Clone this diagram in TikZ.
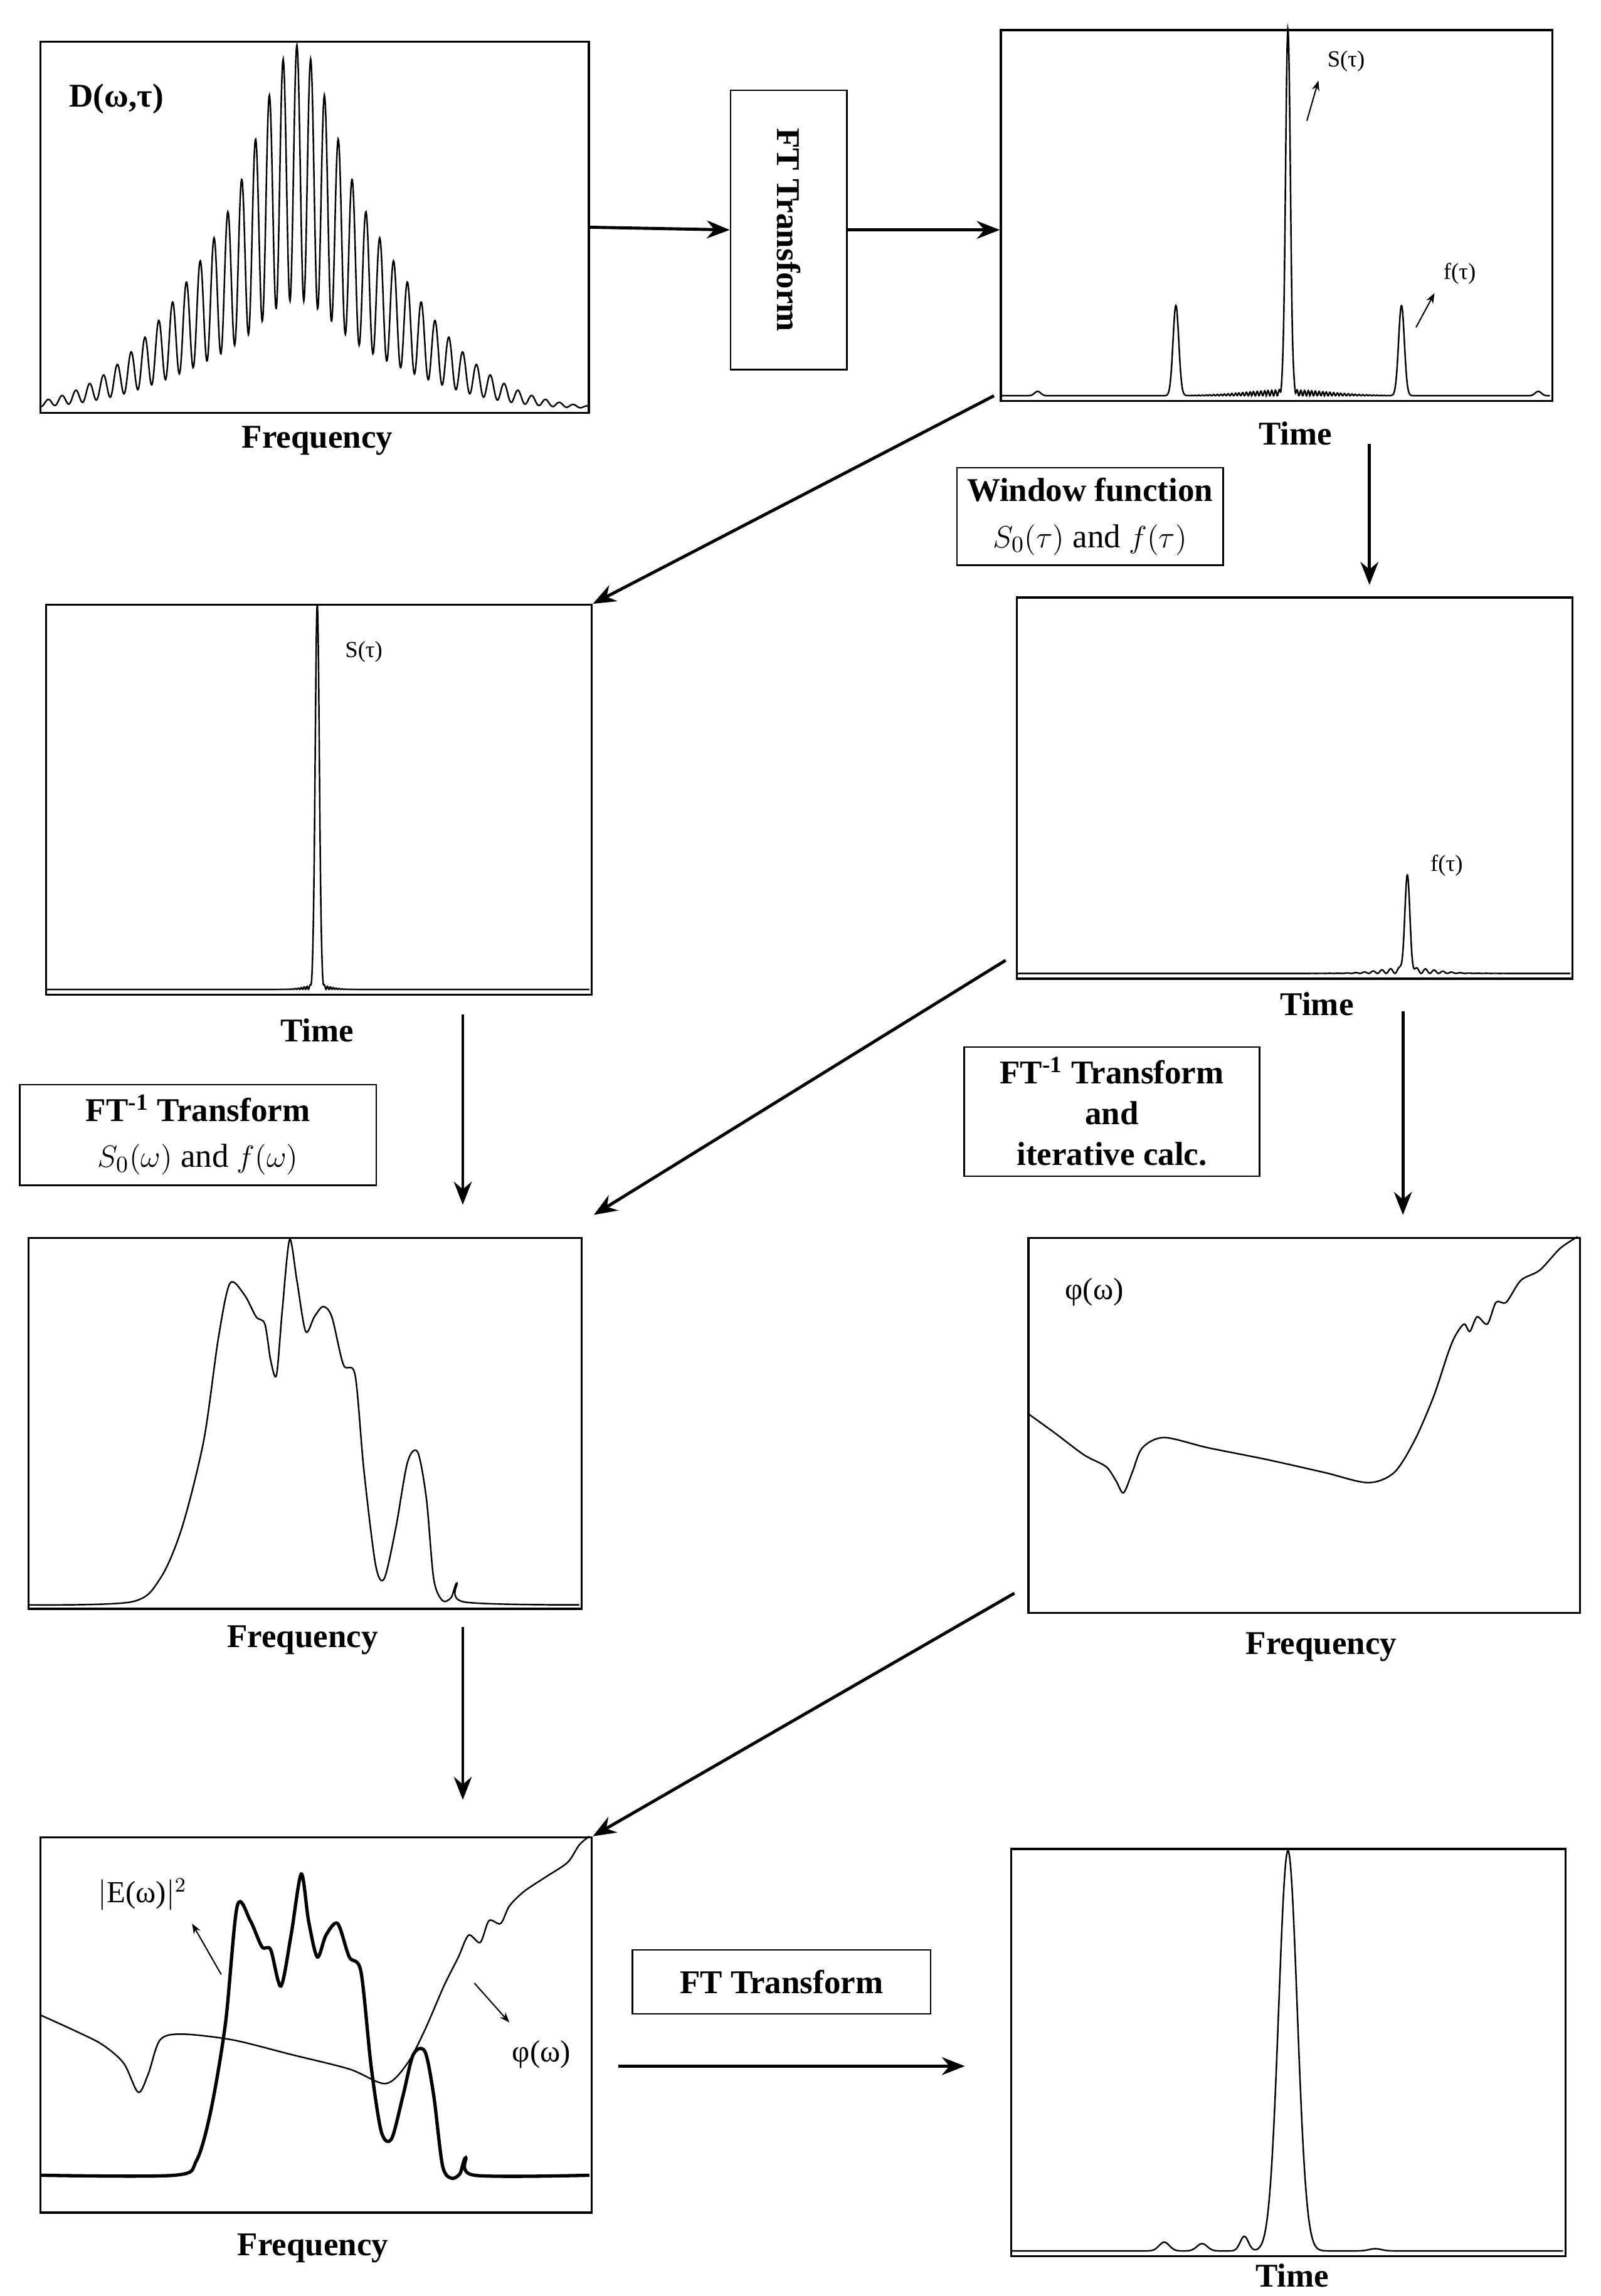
\documentclass[tikz,border=0pt]{standalone}
\usepackage{fontspec}
\setmainfont{Liberation Serif}
\usetikzlibrary{arrows.meta}
\begin{document}
\begin{tikzpicture}[x=0.02cm,y=-0.02cm,
  declare function={g(\u,\c,\w)=exp(-min(40,((\u-\c)/\w)^2));},
  panel/.style={draw,line width=0.8pt},
  lab/.style={font=\bfseries\fontsize{13}{15}\selectfont},
  small/.style={font=\fontsize{9}{11}\selectfont},
  box/.style={draw,line width=0.6pt,align=center,font=\bfseries\fontsize{13}{16}\selectfont,inner sep=4pt},
  arr/.style={-{Stealth[length=9pt,width=7pt]},line width=1.2pt},
  curve/.style={line width=0.6pt}]
\useasboundingbox (0,0) rectangle (1100,1578);
% Panel 1
\node[panel,minimum width=7.54cm,minimum height=5.1cm,anchor=north west] (p1) at (27,28) {};
\begin{scope}
\clip (27,28) rectangle (404,283);
\draw[curve] plot[domain=27:404,samples=1200] (\x,{281-(165*g(\x,204,95)+85*g(\x,204,30))*(0.3+0.7*cos((\x-204)*18.947)^2)});
\end{scope}
\node[lab] (t1) at (80,68) {D(ω,τ)};
\node[lab] (f1) at (218,303) {Frequency};
% FT box
\node[draw,line width=0.6pt,minimum width=1.6cm,minimum height=3.84cm] (ft1) at (542,158) {};
\node[rotate=-90,font=\bfseries\fontsize{13}{15}\selectfont] (ft1t) at (ft1.center) {FT Transform};
\draw[arr] (p1.east) -- (ft1.west);
% Panel 3
\node[panel,minimum width=7.58cm,minimum height=5.1cm,anchor=north west] (p3) at (687,20) {};
\draw[curve] plot[domain=688:1065,samples=1500] (\x,{272-252*g(\x,885,2.3)-62*g(\x,808,2.8)-62*g(\x,963,2.8)-4*g(\x,885,40)*sin(mod(\x,10)*70)^2-3*g(\x,1057,3)-3*g(\x,713,3)});
\draw[arr] (ft1.east) -- (p3.west |- ft1.east);
\node[small] (s3) at (925,42) {S(τ)};
\node[small] (f3) at (1003,188) {f(τ)};
\coordinate (s3a) at (898,83);\coordinate (f3a) at (973,225);
\draw[-{Stealth[length=4pt]},line width=0.5pt] (s3a) -- (s3.south west);
\draw[-{Stealth[length=4pt]},line width=0.5pt] (f3a) -- (f3.south west);
\node[lab] (t3) at (890,298) {Time};
% Window box
\node[box,font=\fontsize{13}{18}\selectfont] (wb) at (749,355) {\textbf{Window function}\\$S_0(\tau)$ and $f(\tau)$};
% Panel 5
\node[panel,minimum width=7.5cm,minimum height=5.36cm,anchor=north west] (p5) at (31,415) {};
\draw[curve] plot[domain=32:405,samples=1500] (\x,{680-265*g(\x,218,2)-3*g(\x,218,12)*sin(mod(\x,10)*90)^2});
\node[small] (s5) at (250,448) {S(τ)};
\node[lab] (t5) at (218,708) {Time};
% Panel 6
\node[panel,minimum width=7.64cm,minimum height=5.24cm,anchor=north west] (p6) at (698,410) {};
\draw[curve] plot[domain=699:1079,samples=1500] (\x,{669-64*g(\x,967,2.5)-4*g(\x,967,25)*(0.5+0.5*sin(mod(\x,12)*60))});
\node[small] (f6) at (994,595) {f(τ)};
\node[lab] (t6) at (905,690) {Time};
\coordinate (a1) at (683,272);
\draw[arr] (a1) -- (p5.north east);
\draw[arr] (941,305) -- (941,402);
% FT-1 boxes
\node[box,font=\fontsize{13}{18}\selectfont,minimum width=4.9cm] (b7) at (136,780) {\textbf{FT\textsuperscript{-1} Transform}\\$S_0(\omega)$ and $f(\omega)$};
\node[box,minimum width=4.06cm] (b8) at (764,764) {FT\textsuperscript{-1} Transform\\and\\iterative calc.};
% Panel 8
\node[panel,minimum width=7.6cm,minimum height=5.1cm,anchor=north west] (p8) at (19,850) {};
\draw[curve] plot[smooth,tension=0.5] coordinates {(20,1103)(90,1101)(110,1085)(125,1050)(140,990)(150,920)(158,882)(168,890)(176,905)(182,910)(186,935)(190,945)(194,900)(199,852)(204,880)(210,915)(216,905)(222,898)(228,905)(236,938)(244,945)(250,1010)(258,1075)(264,1085)(272,1050)(280,1005)(287,998)(293,1030)(298,1085)(304,1100)(310,1098)(314,1088)(319,1101)(398,1103)};
\node[lab] (f8) at (208,1127) {Frequency};
% Panel 9
\node[panel,minimum width=7.58cm,minimum height=5.16cm,anchor=north west] (p9) at (706,850) {};
\draw[curve] plot[smooth,tension=0.5] coordinates {(707,972)(725,985)(745,1000)(760,1008)(767,1018)(772,1026)(778,1012)(785,995)(800,988)(830,995)(870,1003)(910,1012)(940,1019)(958,1012)(972,990)(985,960)(995,930)(1000,918)(1006,910)(1010,915)(1015,905)(1022,910)(1028,895)(1035,895)(1045,880)(1058,873)(1072,858)(1084,850)};
\node[font=\fontsize{12}{14}\selectfont] (ph9) at (752,888) {φ(ω)};
\node[lab] (f9) at (908,1132) {Frequency};
\draw[arr] (318,697) -- (318,828);
\coordinate (a2) at (691,660);
\draw[arr] (a2) -- (408,835);
\draw[arr] (964,695) -- (964,835);
% Panel 11
\node[panel,minimum width=7.58cm,minimum height=5.16cm,anchor=north west] (p11) at (27,1262) {};
\draw[line width=1.3pt] plot[smooth,tension=0.5] coordinates {(28,1495)(120,1495)(135,1485)(145,1450)(155,1390)(163,1310)(172,1320)(180,1338)(186,1340)(193,1365)(200,1330)(207,1288)(212,1320)(218,1345)(224,1330)(232,1322)(240,1345)(248,1355)(255,1420)(262,1465)(269,1470)(277,1440)(284,1412)(292,1410)(298,1440)(304,1488)(310,1497)(316,1494)(320,1483)(326,1495)(405,1495)};
\draw[curve] plot[smooth,tension=0.5] coordinates {(28,1385)(50,1395)(70,1405)(85,1418)(95,1438)(102,1425)(110,1402)(125,1398)(160,1402)(200,1412)(240,1422)(265,1432)(280,1418)(292,1395)(305,1365)(315,1345)(322,1330)(330,1335)(336,1320)(344,1322)(350,1310)(360,1300)(375,1290)(390,1280)(398,1268)(405,1262)};
\node[font=\fontsize{12}{14}\selectfont] (e11) at (98,1302) {$|$E(ω)$|^2$};
\node[font=\fontsize{12}{14}\selectfont] (ph11) at (372,1412) {φ(ω)};
\coordinate (e11a) at (152,1357);\coordinate (ph11a) at (326,1363);
\draw[-{Stealth[length=4pt]},line width=0.5pt] (e11a) -- (132,1322);
\draw[-{Stealth[length=4pt]},line width=0.5pt] (ph11a) -- (350,1390);
\node[lab] (f11) at (215,1545) {Frequency};
\draw[arr] (318,1118) -- (318,1237);
\coordinate (a3) at (697,1095);
\draw[arr] (a3) -- (p11.north east);
% FT box bottom
\node[box,minimum width=4.1cm,minimum height=0.88cm] (b12) at (537,1362) {FT Transform};
% Panel 13
\node[panel,minimum width=7.62cm,minimum height=5.6cm,anchor=north west] (p13) at (694,1270) {};
\draw[curve] plot[domain=695:1074,samples=800] (\x,{1547-275*g(\x,885,9)-6*g(\x,800,5)-5*g(\x,826,5)-10*g(\x,855,4)-1.5*g(\x,945,6)});
\node[lab] (t13) at (888,1564) {Time};
\coordinate (a4) at (425,1420);
\draw[arr] (a4) -- (663,1420);
\end{tikzpicture}
\end{document}
